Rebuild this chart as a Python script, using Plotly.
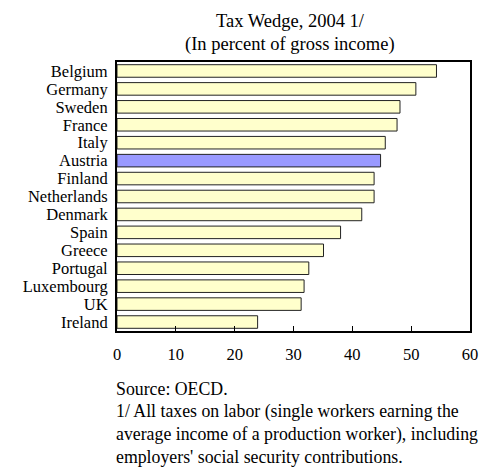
import plotly.graph_objects as go

countries = ["Belgium", "Germany", "Sweden", "France", "Italy", "Austria", "Finland",
             "Netherlands", "Denmark", "Spain", "Greece", "Portugal", "Luxembourg", "UK", "Ireland"]
tax_wedge = [54.3, 50.8, 48.1, 47.6, 45.6, 44.8, 43.7, 43.7, 41.6, 38.0, 35.1, 32.6, 31.8, 31.3, 23.9]
highlight = "Austria"
x_ticks = [0, 10, 20, 30, 40, 50, 60]

title_lines = ["Tax Wedge, 2004 1/", "(In percent of gross income)"]
notes = ["Source: OECD.",
         "1/ All taxes on labor (single workers earning the",
         "average income of a production worker), including",
         "employers' social security contributions."]

colors = ["#9999FF" if c == highlight else "#FFFFCC" for c in countries]

# page is rendered with the browser's default 8px body margin
BODY = 8
PAGE_W, PAGE_H = 493, 467
W, H = PAGE_W - BODY, PAGE_H - BODY
# plot area in page pixels
PX0, PX1, PY0, PY1 = 117, 470, 62, 331
ml, mt = PX0 - BODY, PY0 - BODY
pw, ph = PX1 - PX0, PY1 - PY0
mr, mb = W - ml - pw, H - mt - ph

FONT = "Liberation Serif"
AX_SIZE = 16.5
TITLE_SIZE = 18.5
NOTE_SIZE = 17.8


def px_x(x):
    return (x - PX0) / pw


def px_y(y):
    return (PY1 - y) / ph


fig = go.Figure()
fig.add_trace(go.Bar(
    y=countries, x=tax_wedge, orientation="h",
    marker=dict(color=colors, line=dict(color="#222222", width=1)),
    width=0.7,
))

annotations = []
title_y = [21, 45]
for t, yp in zip(title_lines, title_y):
    annotations.append(dict(text=t, xref="paper", yref="paper", x=px_x(290),
                            y=px_y(yp), xanchor="center", yanchor="middle",
                            showarrow=False, font=dict(family=FONT, size=TITLE_SIZE, color="black")))
note_y = [389, 411, 434, 457]
for t, yp in zip(notes, note_y):
    annotations.append(dict(text=t, xref="paper", yref="paper", x=px_x(114),
                            y=px_y(yp), xanchor="left", yanchor="middle",
                            showarrow=False, font=dict(family=FONT, size=NOTE_SIZE, color="black")))

fig.update_layout(
    width=W, height=H,
    margin=dict(l=ml, r=mr, t=mt, b=mb, pad=0, autoexpand=False),
    paper_bgcolor="white", plot_bgcolor="white",
    showlegend=False,
    font=dict(family=FONT, size=AX_SIZE, color="black"),
    annotations=annotations,
    xaxis=dict(range=[0, 60], tickvals=x_ticks, ticks="inside", ticklen=5, tickwidth=1,
               tickcolor="black", showgrid=False, zeroline=False,
               showline=True, linecolor="black", linewidth=2, mirror=True,
               tickfont=dict(family=FONT, size=AX_SIZE), ticklabelstandoff=7),
    yaxis=dict(categoryorder="array", categoryarray=countries, autorange="reversed",
               tickmode="array", tickvals=countries, ticktext=countries,
               showgrid=False, zeroline=False, ticks="", showline=True, linecolor="black",
               linewidth=2, mirror=True, tickfont=dict(family=FONT, size=AX_SIZE),
               ticklabelstandoff=4),
)

fig.write_html("out.html")
